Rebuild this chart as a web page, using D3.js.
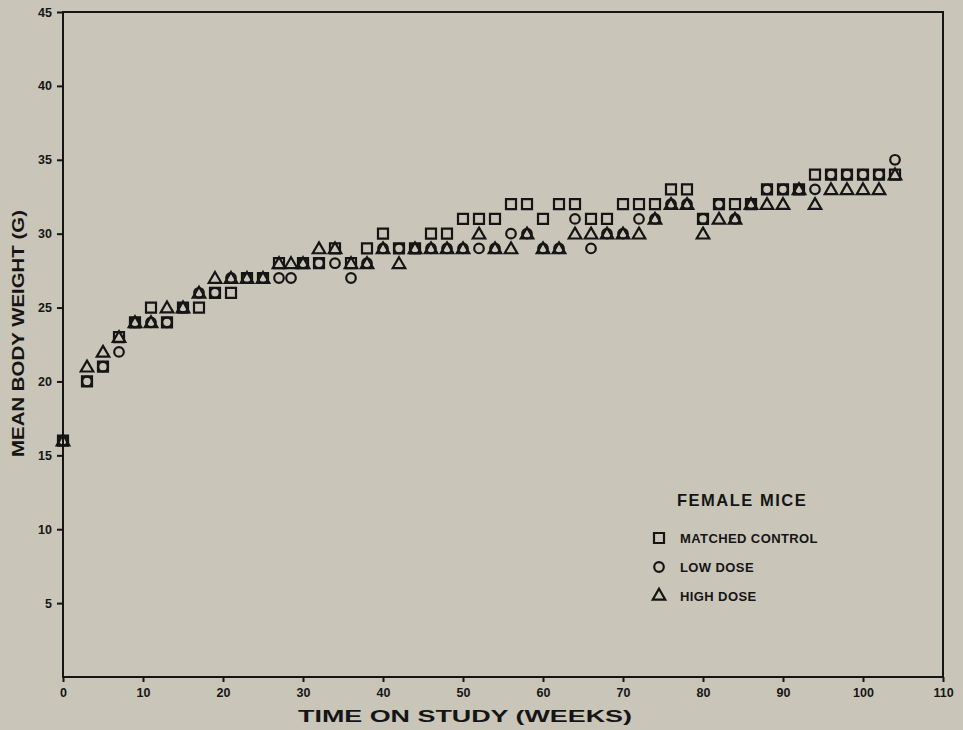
<!DOCTYPE html>
<html>
<head>
<meta charset="utf-8">
<script src="https://cdn.jsdelivr.net/npm/d3@7"></script>
<style>
  body { margin: 0; background: #c9c5b9; }
  text { font-family: "Liberation Sans", Arial, sans-serif; font-weight: bold; fill: #151515; }
</style>
</head>
<body>
<script>
// weeks on study, shared by the three groups (null = no point drawn)
var weeks = [0, 3, 5, 7, 9, 11, 13, 15, 17, 19, 21, 23, 25, 27, 28.5, 30, 32, 34, 36, 38, 40, 42, 44, 46, 48,
  50, 52, 54, 56, 58, 60, 62, 64, 66, 68, 70, 72, 74, 76, 78, 80, 82, 84, 86, 88, 90, 92, 94, 96, 98, 100, 102, 104];
var control = [16, 20, 21, 23, 24, 25, 24, 25, 25, 26, 26, 27, 27, 28, null, 28, 28, 29, 28, 29, 30, 29, 29, 30, 30,
  31, 31, 31, 32, 32, 31, 32, 32, 31, 31, 32, 32, 32, 33, 33, 31, 32, 32, 32, 33, 33, 33, 34, 34, 34, 34, 34, 34];
var lowDose = [16, 20, 21, 22, 24, 24, 24, 25, 26, 26, 27, 27, 27, 27, 27, 28, 28, 28, 27, 28, 29, 29, 29, 29, 29,
  29, 29, 29, 30, 30, 29, 29, 31, 29, 30, 30, 31, 31, 32, 32, 31, 32, 31, 32, 33, 33, 33, 33, 34, 34, 34, 34, 35];
var highDose = [16, 21, 22, 23, 24, 24, 25, 25, 26, 27, 27, 27, 27, 28, 28, 28, 29, 29, 28, 28, 29, 28, 29, 29, 29,
  29, 30, 29, 29, 30, 29, 29, 30, 30, 30, 30, 30, 31, 32, 32, 30, 31, 31, 32, 32, 32, 33, 32, 33, 33, 33, 33, 34];

var xTicks = d3.range(0, 111, 10);
var yTicks = d3.range(5, 46, 5);
var seriesNames = ["MATCHED CONTROL", "LOW DOSE", "HIGH DOSE"];
var legendTitle = "FEMALE MICE";

var margin = { top: 12, right: 20, bottom: 53, left: 63 };
var width = 880, height = 665;

var svg = d3.select("body").append("svg")
    .attr("width", width + margin.left + margin.right)
    .attr("height", height + margin.top + margin.bottom)
  .append("g")
    .attr("transform", "translate(" + margin.left + "," + margin.top + ")");

var x = d3.scaleLinear().domain([0, 110]).range([0, width]);
var y = d3.scaleLinear().domain([0, 45]).range([height, 0]);

// frame
svg.append("rect")
    .attr("x", 0).attr("y", 0)
    .attr("width", width).attr("height", height)
    .attr("fill", "none").attr("stroke", "#151515").attr("stroke-width", 2);

// axes
var xAxis = svg.append("g")
    .attr("transform", "translate(0," + height + ")")
    .call(d3.axisBottom(x).tickValues(xTicks).tickSize(5).tickPadding(6));
var yAxis = svg.append("g")
    .call(d3.axisLeft(y).tickValues(yTicks).tickSize(6).tickPadding(5));

[xAxis, yAxis].forEach(function(a) {
  a.select(".domain").remove();
  a.selectAll("line").attr("stroke", "#151515").attr("stroke-width", 2);
  a.selectAll("text").attr("font-size", 12.5).attr("fill", "#151515")
      .style("font-family", "'Liberation Sans', Arial, sans-serif").style("font-weight", "bold");
});

// axis titles
svg.append("text")
    .attr("x", 235).attr("y", height + 45)
    .attr("font-size", 17)
    .attr("textLength", 334).attr("lengthAdjust", "spacingAndGlyphs")
    .text("TIME ON STUDY (WEEKS)");

svg.append("text")
    .attr("transform", "translate(" + (-39) + "," + 445 + ") rotate(-90)")
    .attr("font-size", 17)
    .attr("textLength", 247).attr("lengthAdjust", "spacingAndGlyphs")
    .text("MEAN BODY WEIGHT (G)");

// markers
var symbols = [
  d3.symbol().type(d3.symbolSquare).size(100),
  d3.symbol().type(d3.symbolCircle).size(72),
  d3.symbol().type(d3.symbolTriangle).size(68)
];
var triShift = 1.2;  // nudge triangles so their box sits on the value like the print

[control, lowDose, highDose].forEach(function(vals, i) {
  var pts = weeks.map(function(w, j) { return { w: w, v: vals[j] }; })
      .filter(function(d) { return d.v != null; });
  svg.append("g").attr("class", "series-" + i)
    .selectAll("path")
    .data(pts)
    .enter().append("path")
      .attr("d", symbols[i])
      .attr("transform", function(d) {
        return "translate(" + x(d.w) + "," + (y(d.v) + (i === 2 ? triShift : 0)) + ")";
      })
      .attr("fill", "none")
      .attr("stroke", "#151515")
      .attr("stroke-width", 2.2);
});

// legend
var legend = svg.append("g").attr("transform", "translate(" + x(74.5) + ",494)");
legend.append("text")
    .attr("x", 18).attr("y", 0)
    .attr("font-size", 16.5).attr("letter-spacing", 1.5)
    .text(legendTitle);

seriesNames.forEach(function(name, i) {
  var row = legend.append("g").attr("transform", "translate(0," + (32 + i * 29) + ")");
  row.append("path")
      .attr("d", symbols[i])
      .attr("fill", "none").attr("stroke", "#151515").attr("stroke-width", 2.2);
  row.append("text")
      .attr("x", 21).attr("y", 4.5)
      .attr("font-size", 13).attr("letter-spacing", 0.4)
      .text(name);
});
</script>
</body>
</html>
